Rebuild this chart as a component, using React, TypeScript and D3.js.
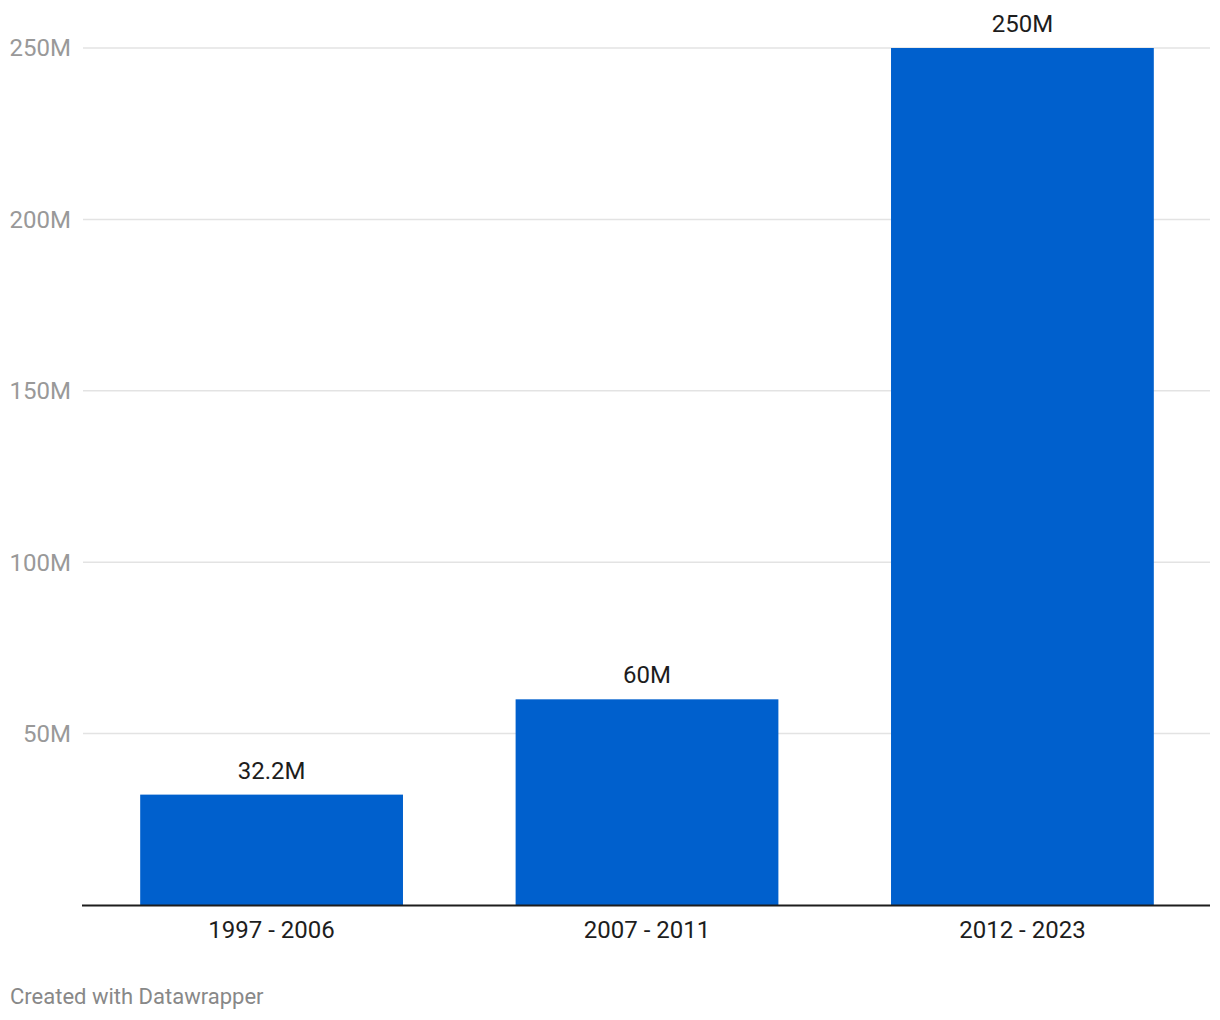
import React from "react";
import * as d3 from "d3";

const categories = ["1997 - 2006", "2007 - 2011", "2012 - 2023"];
const values = [32.2, 60, 250];
const valueLabels = ["32.2M", "60M", "250M"];
const yTicks = [50, 100, 150, 200, 250];

const W = 1220;
const H = 1020;
const left = 82;
const right = 1210;
const top = 48;
const bottom = 905;

export default function App() {
  const x = d3.scaleBand<string>().domain(categories).range([left, right + 2]).paddingInner(0.3).paddingOuter(0.155);
  const y = d3.scaleLinear().domain([0, 250]).range([bottom, top]);
  const font = "Roboto, sans-serif";
  return (
    <svg width={W} height={H} style={{ position: "absolute", left: 0, top: 0, background: "#fff" }} fontFamily={font}>
      {yTicks.map((t) => (
        <g key={t}>
          <line x1={left + 1} x2={right} y1={y(t)} y2={y(t)} stroke="#e3e3e3" strokeWidth={1.5} />
          <text x={71} y={y(t)} dy="0.35em" textAnchor="end" fontSize={24} fill="#999">
            {t}M
          </text>
        </g>
      ))}
      {categories.map((c, i) => (
        <g key={c}>
          <rect x={x(c)} y={y(values[i])} width={x.bandwidth()} height={bottom - y(values[i])} fill="#0060cd" />
          <text x={(x(c) as number) + x.bandwidth() / 2} y={y(values[i]) - 16} textAnchor="middle" fontSize={24} fill="#1d1d1d">
            {valueLabels[i]}
          </text>
          <text x={(x(c) as number) + x.bandwidth() / 2} y={bottom + 33} textAnchor="middle" fontSize={24} fill="#1d1d1d">
            {c}
          </text>
        </g>
      ))}
      <line x1={left} x2={right} y1={bottom + 0.5} y2={bottom + 0.5} stroke="#1d1d1d" strokeWidth={2} />
      <text x={10} y={1004} fontSize={22} fill="#888">
        Created with Datawrapper
      </text>
    </svg>
  );
}
